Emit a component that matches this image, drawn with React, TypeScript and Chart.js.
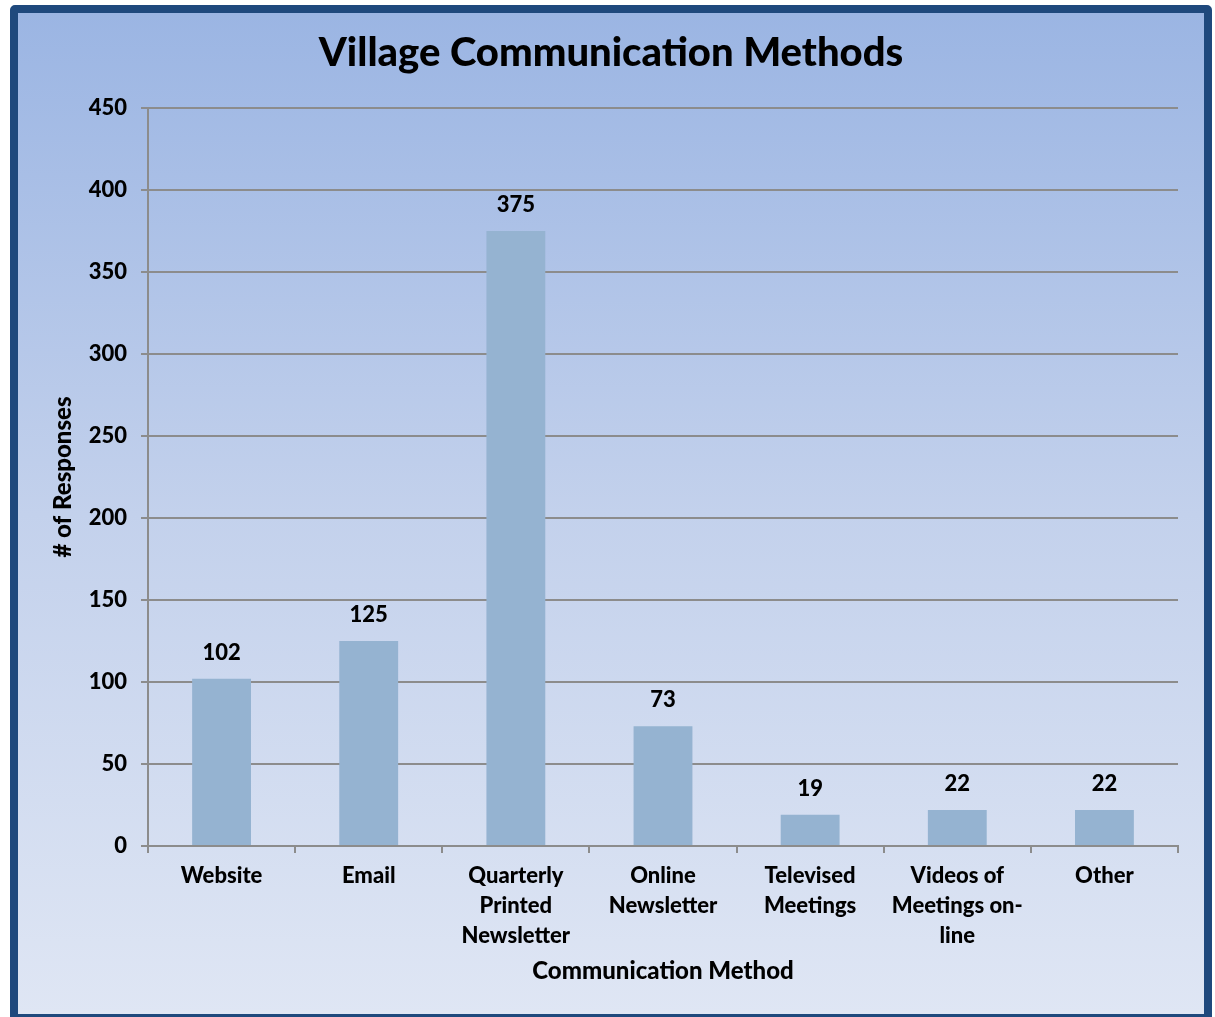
import React, { useEffect, useRef } from "react";
import { Chart, registerables } from "chart.js";

Chart.register(...registerables);

const categories: (string | string[])[] = [
  "Website",
  "Email",
  ["Quarterly", "Printed", "Newsletter"],
  ["Online", "Newsletter"],
  ["Televised", "Meetings"],
  ["Videos of", "Meetings on-", "line"],
  "Other",
];
const responses: number[] = [102, 125, 375, 73, 19, 22, 22];
const yTicks: number[] = [0, 50, 100, 150, 200, 250, 300, 350, 400, 450];

const FONT = "Lato, 'DejaVu Sans', sans-serif";
const GRID = "#8c8c8c";
const W = "900";

const valueLabels = {
  id: "valueLabels",
  afterDatasetsDraw(chart: any) {
    const ctx = chart.ctx;
    const meta = chart.getDatasetMeta(0);
    ctx.save();
    ctx.font = `${W} 22px ${FONT}`;
    ctx.fillStyle = "#000";
    ctx.textAlign = "center";
    ctx.textBaseline = "middle";
    meta.data.forEach((bar: any, i: number) => {
      ctx.fillText(String(responses[i]), bar.x, bar.y - 26);
    });
    ctx.restore();
  },
};

export default function App() {
  const ref = useRef<HTMLCanvasElement | null>(null);
  useEffect(() => {
    if (!ref.current) return;
    const chart = new Chart(ref.current, {
      type: "bar",
      data: {
        labels: categories,
        datasets: [
          {
            data: responses,
            backgroundColor: "#95b3d1",
            borderWidth: 0,
            categoryPercentage: 1,
            barPercentage: 0.4,
          },
        ],
      },
      options: {
        responsive: false,
        animation: false,
        layout: { padding: 0 },
        plugins: {
          legend: { display: false },
          tooltip: { enabled: false },
          title: {
            display: true,
            text: "Village Communication Methods",
            color: "#000",
            font: { family: FONT, size: 40, weight: W, lineHeight: 1.2 },
            padding: { top: 16, bottom: 31 },
          },
        },
        scales: {
          x: {
            border: { color: GRID, width: 2 },
            grid: {
              offset: true,
              drawOnChartArea: false,
              drawTicks: true,
              tickLength: 7,
              color: GRID,
              lineWidth: 2,
            },
            ticks: {
              color: "#000",
              padding: 8,
              maxRotation: 0,
              autoSkip: false,
              font: { family: FONT, size: 22, weight: W, lineHeight: 1.36 },
            },
            title: {
              display: true,
              text: "Communication Method",
              color: "#000",
              font: { family: FONT, size: 24, weight: W },
              padding: { top: 4, bottom: 28 },
            },
            afterFit(scale: any) {
              scale.height = 168;
            },
          },
          y: {
            min: 0,
            max: 450,
            border: { color: GRID, width: 2 },
            grid: {
              color: GRID,
              lineWidth: 2,
              drawTicks: true,
              tickLength: 7,
            },
            afterBuildTicks(scale: any) {
              scale.ticks = yTicks.map((v) => ({ value: v }));
            },
            ticks: {
              color: "#000",
              padding: 14,
              font: { family: FONT, size: 22, weight: W },
            },
            title: {
              display: true,
              text: "# of Responses",
              color: "#000",
              font: { family: FONT, size: 24, weight: W },
              padding: { top: 31, bottom: 10 },
            },
            afterFit(scale: any) {
              scale.width = 130;
            },
          },
          spacer: {
            position: "right",
            display: true,
            grid: { display: false, drawTicks: false },
            border: { display: false },
            ticks: { display: false },
            afterFit(scale: any) {
              scale.width = 26;
            },
          },
        },
      },
      plugins: [valueLabels],
    });
    return () => chart.destroy();
  }, []);

  return (
    <div
      style={{
        position: "absolute",
        left: 10,
        top: 5,
        width: 1186,
        height: 1001,
        borderStyle: "solid",
        borderColor: "#1f497d",
        borderWidth: "8px 8px 3px 8px",
        borderRadius: "5px 5px 0 0",
        background: "linear-gradient(to bottom, #9bb5e3 0%, #c3d1ec 50%, #dfe6f4 100%)",
      }}
    >
      <canvas ref={ref} width={1186} height={1001} style={{ display: "block" }} />
    </div>
  );
}
